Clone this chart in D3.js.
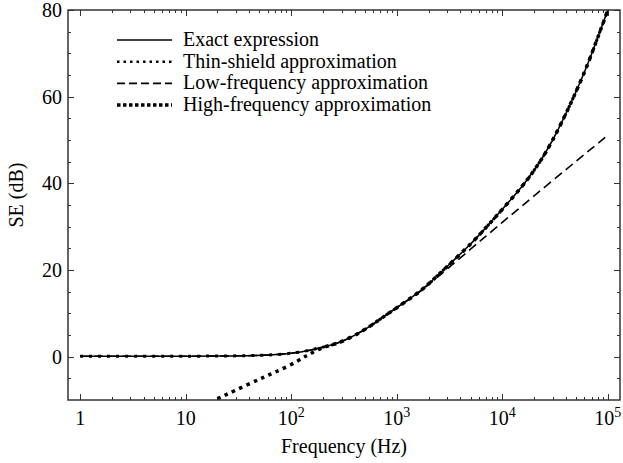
<!DOCTYPE html>
<html>
  <head>
    <meta charset="utf-8">
    <title>SE vs frequency</title>
    <script src="https://cdn.jsdelivr.net/npm/d3@7"></script>
    <style type="text/css">
      body { margin: 0; background: #fff; }
      text { font-family: "Liberation Serif", "Times New Roman", serif; fill: #000; }
    </style>
  </head>
  <body>
    <script>
    //Width and height
    var svgWidth = 623;
    var svgHeight = 463;
    var margin = {left: 68, right: 3, top: 10, bottom: 63};

    //Data (frequency in Hz, SE in dB)
    var freqs = [1, 2, 5, 10, 20, 50, 100, 150, 200, 300, 500, 700, 1000, 1500, 2000,
                 3000, 5000, 7000, 10000, 15000, 20000, 30000, 50000, 70000, 100000];
    var exactSE = [0.1, 0.1, 0.1, 0.1, 0.15, 0.3, 0.8, 1.5, 2.2, 3.5, 6.3, 8.7, 11.3, 14.3, 16.8,
                   20.8, 26.0, 29.8, 34.0, 39.0, 43.0, 50.0, 61.2, 69.8, 80.0];
    var thinSE = [0.1, 0.1, 0.1, 0.1, 0.15, 0.3, 0.8, 1.5, 2.2, 3.5, 6.3, 8.7, 11.3, 14.3, 16.8,
                  20.8, 26.0, 29.8, 34.0, 39.0, 43.0, 50.0, 61.2, 69.8, 80.0];
    var lowFreqs = [1, 2, 5, 10, 20, 50, 100, 150, 200, 300, 500, 700, 1000, 1500, 2000,
                    3000, 5000, 7000, 10000, 20000, 50000, 100000];
    var lowSE = [0.1, 0.1, 0.1, 0.1, 0.15, 0.3, 0.8, 1.5, 2.2, 3.5, 6.3, 8.7, 11.3, 14.2, 16.6,
                 20.2, 24.8, 27.8, 31.0, 37.1, 45.1, 51.1];
    var highFreqs = [20, 30, 50, 70, 100, 130, 150, 200, 300, 500, 700, 1000, 1500, 2000,
                     3000, 5000, 7000, 10000, 15000, 20000, 30000, 50000, 70000, 100000];
    var highSE = [-9.7, -7.7, -5.2, -3.6, -1.8, -0.2, 0.6, 2.1, 3.5, 6.3, 8.7, 11.3, 14.3, 16.8,
                  20.8, 26.0, 29.8, 34.0, 39.0, 43.0, 50.0, 61.2, 69.8, 80.0];

    var legendLabels = ["Exact expression", "Thin-shield approximation",
                        "Low-frequency approximation", "High-frequency approximation"];
    var yTicks = [0, 20, 40, 60, 80];
    var xTickExps = [0, 1, 2, 3, 4, 5];

    var x0 = margin.left, x1 = svgWidth - margin.right;
    var y0 = svgHeight - margin.bottom, y1 = margin.top;

    var xScale = d3.scaleLog()
      .domain([Math.pow(10, -0.115), Math.pow(10, 5.115)])
      .range([x0, x1]);
    var yScale = d3.scaleLinear()
      .domain([-10, 80])
      .range([y0, y1]);

    var svg = d3.select("body")
      .append("svg")
        .attr("width", svgWidth)
        .attr("height", svgHeight)
        .attr("font-family", "'Liberation Serif', 'Times New Roman', serif");

    svg.append("clipPath").attr("id", "clip")
      .append("rect")
        .attr("x", x0).attr("y", y1)
        .attr("width", x1 - x0).attr("height", y0 - y1);

    //tick positions
    var majorX = xTickExps.map(function(e) { return Math.pow(10, e); });
    var minorX = [];
    for (var e = 0; e < 5; e++) {
      for (var m = 2; m <= 9; m++) minorX.push(m * Math.pow(10, e));
    }
    var minorY = d3.range(-5, 80, 5).filter(function(v) { return v % 20 !== 0; });

    var ticks = svg.append("g").attr("stroke", "#333").attr("stroke-width", 1);
    function xTick(v, len) {
      var x = Math.round(xScale(v)) + 0.5;
      ticks.append("line").attr("x1", x).attr("x2", x).attr("y1", y0).attr("y2", y0 - len);
      ticks.append("line").attr("x1", x).attr("x2", x).attr("y1", y1).attr("y2", y1 + len);
    }
    function yTick(v, len) {
      var y = Math.round(yScale(v)) + 0.5;
      ticks.append("line").attr("x1", x0).attr("x2", x0 + len).attr("y1", y).attr("y2", y);
      ticks.append("line").attr("x1", x1).attr("x2", x1 - len).attr("y1", y).attr("y2", y);
    }
    majorX.forEach(function(v) { xTick(v, 6); });
    minorX.forEach(function(v) { xTick(v, 3); });
    yTicks.forEach(function(v) { yTick(v, 6); });
    minorY.forEach(function(v) { yTick(v, 3); });

    //tick labels
    svg.selectAll(".ylab")
      .data(yTicks)
      .enter()
      .append("text")
        .attr("class", "ylab")
        .attr("x", x0 - 6)
        .attr("y", function(d) { return yScale(d) + 7; })
        .attr("text-anchor", "end")
        .attr("font-size", "20px")
        .text(function(d) { return d; });

    var xl = svg.selectAll(".xlab")
      .data(xTickExps)
      .enter()
      .append("text")
        .attr("class", "xlab")
        .attr("x", function(d) { return xScale(Math.pow(10, d)); })
        .attr("y", 425)
        .attr("text-anchor", "middle")
        .attr("font-size", "20px");
    xl.each(function(d) {
      var t = d3.select(this);
      if (d === 0) t.text("1");
      else if (d === 1) t.text("10");
      else {
        t.append("tspan").text("10");
        t.append("tspan").attr("dy", -8).attr("font-size", "14px").text(d);
      }
    });

    //axis titles
    svg.append("text")
      .attr("x", (x0 + x1) / 2)
      .attr("y", 453)
      .attr("text-anchor", "middle")
      .attr("font-size", "20px")
      .text("Frequency (Hz)");
    svg.append("text")
      .attr("transform", "translate(23," + ((y0 + y1) / 2 - 10) + ") rotate(-90)")
      .attr("text-anchor", "middle")
      .attr("font-size", "20px")
      .text("SE (dB)");

    //curves
    var line = d3.line()
      .curve(d3.curveNatural)
      .x(function(d) { return xScale(d[0]); })
      .y(function(d) { return yScale(d[1]); });

    var plot = svg.append("g").attr("clip-path", "url(#clip)").attr("fill", "none").attr("stroke", "#000");

    plot.append("path")
      .attr("d", line(d3.zip(highFreqs, highSE)))
      .attr("stroke-width", 3.5)
      .attr("stroke-dasharray", "3.5,4.5");
    plot.append("path")
      .attr("d", line(d3.zip(lowFreqs, lowSE)))
      .attr("stroke-width", 1.6)
      .attr("stroke-dasharray", "9,5");
    plot.append("path")
      .attr("d", line(d3.zip(freqs, exactSE)))
      .attr("stroke-width", 1.6);
    plot.append("path")
      .attr("d", line(d3.zip(freqs, thinSE)))
      .attr("stroke-width", 3)
      .attr("stroke-dasharray", "3,6");

    //frame
    svg.append("rect")
      .attr("x", x0).attr("y", y1)
      .attr("width", x1 - x0).attr("height", y0 - y1)
      .attr("fill", "none")
      .attr("stroke", "#333")
      .attr("stroke-width", 1.5);

    //legend
    var legendStyles = [
      {w: 1.6, dash: null},
      {w: 2.5, dash: "2.5,4"},
      {w: 1.6, dash: "8,4"},
      {w: 3.5, dash: "3.5,2.5"}
    ];
    var legend = svg.selectAll(".leg")
      .data(legendLabels)
      .enter()
      .append("g")
        .attr("class", "leg")
        .attr("transform", function(d, i) { return "translate(117," + (40 + i * 21.7) + ")"; });
    legend.append("line")
      .attr("x1", 0).attr("x2", 55)
      .attr("y1", 0).attr("y2", 0)
      .attr("stroke", "#000")
      .attr("stroke-width", function(d, i) { return legendStyles[i].w; })
      .attr("stroke-dasharray", function(d, i) { return legendStyles[i].dash; });
    legend.append("text")
      .attr("x", 66)
      .attr("y", 6)
      .attr("font-size", "20px")
      .text(function(d) { return d; });
    </script>
  </body>
</html>
